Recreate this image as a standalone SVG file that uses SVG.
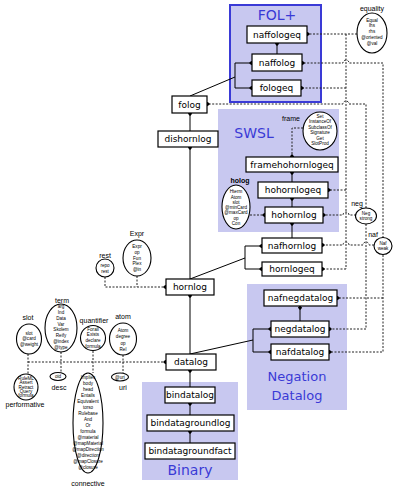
<svg xmlns="http://www.w3.org/2000/svg" width="393" height="488" viewBox="0 0 393 488">
<style>
.reg{fill:#c8c8f0;stroke:none}
.title{font-family:"DejaVu Sans",Verdana,sans-serif;font-size:14px;fill:#3a3ad6;text-anchor:middle}
.box{fill:#fff;stroke:#000;stroke-width:1.2}
.bt{font-family:"DejaVu Sans",Verdana,sans-serif;font-size:9px;fill:#000;text-anchor:middle}
.el{fill:#fff;stroke:#000;stroke-width:1.1}
.et{font-family:"Liberation Sans",Arial,sans-serif;font-size:4.6px;fill:#000;text-anchor:middle}
.lb{font-family:"Liberation Sans",Arial,sans-serif;font-size:7px;fill:#000;text-anchor:middle}
.sl{fill:none;stroke:#000;stroke-width:1}
.dl{fill:none;stroke:#222;stroke-width:1;stroke-dasharray:2 1.5}
</style>
<defs>
<marker id="d" viewBox="0 0 8 8" refX="5" refY="4" markerWidth="5" markerHeight="5" markerUnits="userSpaceOnUse" orient="auto">
<path d="M0,4 L4,0.5 L8,4 L4,7.5 Z" fill="#000"/>
</marker>
</defs>

<g id="regions">
<rect class="reg" x="230" y="5" width="91" height="97" style="stroke:#3a3ad6;stroke-width:2"/>
<text class="title" x="277" y="20">FOL+</text>
<rect class="reg" x="218" y="109" width="121" height="123"/>
<text class="title" x="254" y="138">SWSL</text>
<rect class="reg" x="247" y="284" width="100" height="126"/>
<text class="title" x="297" y="381" style="font-size:13px">Negation</text>
<text class="title" x="297" y="400" style="font-size:13px">Datalog</text>
<rect class="reg" x="142" y="382" width="96" height="98"/>
<text class="title" x="190" y="475">Binary</text>
</g>

<g id="connectors">
<!-- solid -->
<path class="sl" d="M277,54 V43" marker-end="url(#d)"/>
<path class="sl" d="M190,96 L235,77"/>
<path class="sl" d="M235,77 V63 H252" marker-end="url(#d)"/>
<path class="sl" d="M235,77 V88 H252" marker-end="url(#d)"/>
<path class="sl" d="M190,131 V113" marker-end="url(#d)"/>
<path class="sl" d="M190,279 V147" marker-end="url(#d)"/>
<path class="sl" d="M190,279 L245,258"/>
<path class="sl" d="M245,258 V246 H262" marker-end="url(#d)"/>
<path class="sl" d="M245,258 V269 H262" marker-end="url(#d)"/>
<path class="sl" d="M292,238 V223" marker-end="url(#d)"/>
<path class="sl" d="M292,207 V198" marker-end="url(#d)"/>
<path class="sl" d="M292,182 V172" marker-end="url(#d)"/>
<path class="sl" d="M190,354 V295" marker-end="url(#d)"/>
<path class="sl" d="M190,354 L253,340"/>
<path class="sl" d="M253,340 V329 H271" marker-end="url(#d)"/>
<path class="sl" d="M253,340 V352 H271" marker-end="url(#d)"/>
<path class="sl" d="M300,321 V307" marker-end="url(#d)"/>
<path class="sl" d="M190,387 V370" marker-end="url(#d)"/>
<path class="sl" d="M190,415 V403" marker-end="url(#d)"/>
<path class="sl" d="M190,443 V431" marker-end="url(#d)"/>
<!-- dotted: equality -->
<path class="dl" d="M357,34 H307" marker-end="url(#d)"/>
<path class="dl" d="M346,34 V269"/>
<path class="dl" d="M346,88 H301" marker-end="url(#d)"/>
<path class="dl" d="M346,190 H328" marker-end="url(#d)"/>
<path class="dl" d="M346,269 H322" marker-end="url(#d)"/>
<!-- dotted: naf -->
<path class="dl" d="M383,238 V63 H349 A3,3 0 0 0 343,63 H302" marker-end="url(#d)"/>
<path class="dl" d="M374,245 H369 A3,3 0 0 0 363,245 H349 A3,3 0 0 0 343,245 H322" marker-end="url(#d)"/>
<path class="dl" d="M383,255 V352 H329" marker-end="url(#d)"/>
<path class="dl" d="M383,298 H337" marker-end="url(#d)"/>
<!-- dotted: neg -->
<path class="dl" d="M366,208 V104 H349 A3,3 0 0 0 343,104 H207" marker-end="url(#d)"/>
<path class="dl" d="M356,215 H349 A3,3 0 0 0 343,215 H323" marker-end="url(#d)"/>
<path class="dl" d="M366,224 V329 H329" marker-end="url(#d)"/>
<!-- dotted: frame, holog -->
<path class="dl" d="M303,128 H292 V157" marker-end="url(#d)"/>
<path class="dl" d="M250,215 H265" marker-end="url(#d)"/>
<!-- dotted: rest, Expr -->
<path class="dl" d="M105,277 V287 H166" marker-end="url(#d)"/>
<path class="dl" d="M137,276 V287"/>
<!-- dotted: datalog modules -->
<path class="dl" d="M28,362 H166" marker-end="url(#d)"/>
<path class="dl" d="M28,354 V374"/>
<path class="dl" d="M61,352 V373"/>
<path class="dl" d="M93,351 V373"/>
<path class="dl" d="M123,355 V373"/>
</g>

<g id="naffologeq"><rect class="box" x="247" y="26" width="60" height="17"/><text class="bt" x="277" y="37.5">naffologeq</text></g>
<g id="naffolog"><rect class="box" x="252" y="54" width="50" height="17"/><text class="bt" x="277" y="65.5">naffolog</text></g>
<g id="fologeq"><rect class="box" x="252" y="80" width="49" height="16"/><text class="bt" x="276.5" y="91">fologeq</text></g>
<g id="folog"><rect class="box" x="172" y="96" width="35" height="17"/><text class="bt" x="189.5" y="107.5">folog</text></g>
<g id="dishornlog"><rect class="box" x="158" y="131" width="60" height="16"/><text class="bt" x="188" y="142">dishornlog</text></g>
<g id="framehohornlogeq"><rect class="box" x="246" y="157" width="92" height="15"/><text class="bt" x="292" y="167.5">framehohornlogeq</text></g>
<g id="hohornlogeq"><rect class="box" x="258" y="182" width="70" height="16"/><text class="bt" x="293" y="193">hohornlogeq</text></g>
<g id="hohornlog"><rect class="box" x="265" y="207" width="58" height="16"/><text class="bt" x="294" y="218">hohornlog</text></g>
<g id="nafhornlog"><rect class="box" x="262" y="238" width="60" height="15"/><text class="bt" x="292" y="248.5">nafhornlog</text></g>
<g id="hornlogeq"><rect class="box" x="262" y="262" width="60" height="14"/><text class="bt" x="292" y="272">hornlogeq</text></g>
<g id="hornlog"><rect class="box" x="166" y="279" width="48" height="16"/><text class="bt" x="190" y="290">hornlog</text></g>
<g id="nafnegdatalog"><rect class="box" x="264" y="290" width="73" height="16"/><text class="bt" x="300.5" y="301">nafnegdatalog</text></g>
<g id="negdatalog"><rect class="box" x="271" y="321" width="58" height="16"/><text class="bt" x="300" y="332">negdatalog</text></g>
<g id="nafdatalog"><rect class="box" x="271" y="344" width="58" height="16"/><text class="bt" x="300" y="355">nafdatalog</text></g>
<g id="datalog"><rect class="box" x="166" y="354" width="50" height="16"/><text class="bt" x="191" y="365">datalog</text></g>
<g id="bindatalog"><rect class="box" x="165" y="387" width="50" height="16"/><text class="bt" x="190" y="398">bindatalog</text></g>
<g id="bindatagroundlog"><rect class="box" x="147" y="415" width="87" height="16"/><text class="bt" x="190.5" y="426">bindatagroundlog</text></g>
<g id="bindatagroundfact"><rect class="box" x="145" y="443" width="90" height="16"/><text class="bt" x="190" y="454">bindatagroundfact</text></g>

<g id="equality"><text class="lb" x="372" y="11">equality</text><ellipse class="el" cx="372" cy="33" rx="15" ry="20"/>
<text class="et"><tspan x="372" y="21.5">Equal</tspan><tspan x="372" y="27.3">lhs</tspan><tspan x="372" y="33.1">rhs</tspan><tspan x="372" y="38.9">@oriented</tspan><tspan x="372" y="44.7">@val</tspan></text></g>
<g id="frame"><text class="lb" x="291" y="121">frame</text><ellipse class="el" cx="320" cy="131" rx="17" ry="19"/>
<text class="et"><tspan x="320" y="117.5">Set</tspan><tspan x="320" y="123">InstanceOf</tspan><tspan x="320" y="128.5">SubclassOf</tspan><tspan x="320" y="134">Signature</tspan><tspan x="320" y="139.5">Get</tspan><tspan x="320" y="145">SlotProd</tspan></text></g>
<g id="holog"><text class="lb" x="240" y="182.5" style="font-weight:bold">holog</text><ellipse class="el" cx="236" cy="207" rx="14" ry="22"/>
<text class="et"><tspan x="236" y="193.2">Hterm</tspan><tspan x="236" y="198.5">Atom</tspan><tspan x="236" y="203.7">slot</tspan><tspan x="236" y="209">@minCard</tspan><tspan x="236" y="214.3">@maxCard</tspan><tspan x="236" y="219.5">op</tspan><tspan x="236" y="224.8">Con</tspan></text></g>
<g id="neg"><text class="lb" x="357" y="206">neg</text><ellipse class="el" cx="366" cy="216" rx="10.5" ry="8"/>
<text class="et"><tspan x="366" y="214.7">Neg</tspan><tspan x="366" y="220.3">strong</tspan></text></g>
<g id="naf"><text class="lb" x="373" y="237">naf</text><ellipse class="el" cx="383" cy="246" rx="9" ry="8.5"/>
<text class="et"><tspan x="383" y="244.7">Naf</tspan><tspan x="383" y="250.3">weak</tspan></text></g>
<g id="Expr"><text class="lb" x="137" y="236">Expr</text><ellipse class="el" cx="137" cy="258" rx="14" ry="18"/>
<text class="et"><tspan x="137" y="248.2">Expr</tspan><tspan x="137" y="253.9">op</tspan><tspan x="137" y="259.5">Fun</tspan><tspan x="137" y="265.2">Plex</tspan><tspan x="137" y="270.8">@in</tspan></text></g>
<g id="rest"><text class="lb" x="105" y="258">rest</text><ellipse class="el" cx="105" cy="268" rx="9" ry="9"/>
<text class="et"><tspan x="105" y="266.5">repo</tspan><tspan x="105" y="272.5">rest</tspan></text></g>
<g id="slot"><text class="lb" x="28" y="320">slot</text><ellipse class="el" cx="29" cy="339" rx="12.5" ry="15"/>
<text class="et"><tspan x="29" y="334.5">slot</tspan><tspan x="29" y="340">@card</tspan><tspan x="29" y="345.5">@weight</tspan></text></g>
<g id="term"><text class="lb" x="62" y="303">term</text><ellipse class="el" cx="61" cy="328" rx="16" ry="24"/>
<text class="et"><tspan x="61" y="308.2">arg</tspan><tspan x="61" y="314">Ind</tspan><tspan x="61" y="319.8">Data</tspan><tspan x="61" y="325.5">Var</tspan><tspan x="61" y="331.3">Skolem</tspan><tspan x="61" y="337">Reify</tspan><tspan x="61" y="342.8">@index</tspan><tspan x="61" y="348.5">@type</tspan></text></g>
<g id="quantifier"><text class="lb" x="94" y="323">quantifier</text><ellipse class="el" cx="93" cy="338" rx="12.5" ry="12.5"/>
<text class="et"><tspan x="93" y="330.5">Forall</tspan><tspan x="93" y="336.4">Exists</tspan><tspan x="93" y="342.3">declare</tspan><tspan x="93" y="348.2">formula</tspan></text></g>
<g id="atom"><text class="lb" x="123" y="319">atom</text><ellipse class="el" cx="123" cy="339" rx="13.5" ry="16"/>
<text class="et"><tspan x="123" y="332.2">Atom</tspan><tspan x="123" y="338.4">degree</tspan><tspan x="123" y="344.6">op</tspan><tspan x="123" y="350.8">Rel</tspan></text></g>
<g id="performative"><ellipse class="el" cx="26" cy="387" rx="12" ry="13"/>
<text class="et"><tspan x="26" y="379.7">RuleML</tspan><tspan x="26" y="384.1">Assert</tspan><tspan x="26" y="388.5">Retract</tspan><tspan x="26" y="392.9">Query</tspan><tspan x="26" y="397.3">formula</tspan></text>
<text class="lb" x="25" y="406.5">performative</text></g>
<g id="desc"><ellipse class="el" cx="58" cy="376.5" rx="8" ry="4"/><text class="et" x="58" y="378">oid</text><text class="lb" x="59" y="390">desc</text></g>
<g id="connective"><ellipse class="el" cx="88" cy="423" rx="15" ry="50"/>
<text class="et"><tspan x="88" y="378.8">Implies</tspan><tspan x="88" y="384.8">body</tspan><tspan x="88" y="390.8">head</tspan><tspan x="88" y="396.8">Entails</tspan><tspan x="88" y="402.8">Equivalent</tspan><tspan x="88" y="408.8">torso</tspan><tspan x="88" y="414.8">Rulebase</tspan><tspan x="88" y="420.8">And</tspan><tspan x="88" y="426.8">Or</tspan><tspan x="88" y="432.8">formula</tspan><tspan x="88" y="438.8">@material</tspan><tspan x="88" y="444.8">@mapMaterial</tspan><tspan x="88" y="450.8">@mapDirection</tspan><tspan x="88" y="456.8">@direction</tspan><tspan x="88" y="462.8">@mapClosure</tspan><tspan x="88" y="468.8">@closure</tspan></text>
<text class="lb" x="88" y="486">connective</text></g>
<g id="uri"><ellipse class="el" cx="120" cy="377" rx="8.5" ry="4"/><text class="et" x="120" y="378.5">@uri</text><text class="lb" x="123" y="390">uri</text></g>
</svg>
